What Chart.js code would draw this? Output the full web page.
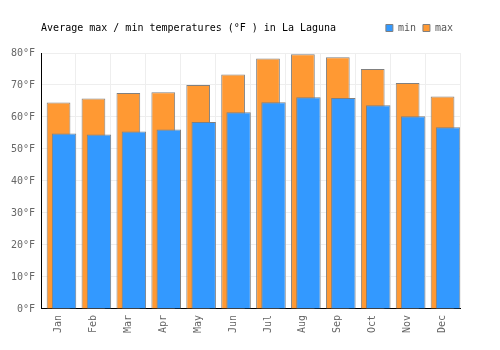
<!DOCTYPE html>
<html>
<head>
<meta charset="utf-8">
<script src="https://cdn.jsdelivr.net/npm/chart.js@4/dist/chart.umd.min.js"></script>
<style>
html,body{margin:0;padding:0;background:#fff;}
#wrap{width:500px;height:350px;position:relative;}
</style>
</head>
<body>
<div id="wrap"><canvas id="c" width="500" height="350"></canvas></div>
<script>
const months = ["Jan","Feb","Mar","Apr","May","Jun","Jul","Aug","Sep","Oct","Nov","Dec"];
const minTemps = [54.8, 54.5, 55.5, 56.1, 58.4, 61.5, 64.6, 66.2, 65.9, 63.7, 60.2, 56.8];
const maxTemps = [64.5, 65.8, 67.5, 67.7, 70.0, 73.3, 78.3, 79.6, 78.7, 75.0, 70.6, 66.4];
const yTicks = [0, 10, 20, 30, 40, 50, 60, 70, 80];
const titleText = "Average max / min temperatures (°F ) in La Laguna";

const FONT = "'DejaVu Sans Mono', 'Liberation Mono', monospace";
const shift = 0.158;
const TOP_PAD = 16;
const PLOT_TOP = 53;

const layoutPlugin = {
  id: 'legendHeight',
  beforeLayout(chart) {
    const lg = chart.legend;
    if (lg && !lg._patched) {
      lg._patched = true;
      const origFit = lg.fit;
      lg.fit = function () {
        origFit.call(this);
        this.height = PLOT_TOP - TOP_PAD;
      };
    }
  }
};

const titlePlugin = {
  id: 'sideTitle',
  afterDraw(chart) {
    const ctx = chart.ctx;
    const lg = chart.legend;
    const y = lg && lg.legendHitBoxes && lg.legendHitBoxes.length
      ? lg.legendHitBoxes[0].top + lg.legendHitBoxes[0].height / 2
      : 27;
    ctx.save();
    ctx.font = "10px " + FONT;
    ctx.fillStyle = "#000";
    ctx.textBaseline = "middle";
    ctx.textAlign = "left";
    ctx.fillText(titleText, chart.chartArea.left, y);
    ctx.restore();
  }
};

new Chart(document.getElementById('c'), {
  type: 'bar',
  data: {
    labels: months,
    datasets: [
      {
        label: 'min',
        data: minTemps.map((v, i) => ({x: i, y: v})),
        xAxisID: 'x2',
        backgroundColor: '#3399ff',
        borderColor: '#808080',
        borderWidth: 1,
        grouped: false,
        categoryPercentage: 1,
        barPercentage: 0.70
      },
      {
        label: 'max',
        data: maxTemps,
        xAxisID: 'x',
        backgroundColor: '#ff9933',
        borderColor: '#808080',
        borderWidth: 1,
        grouped: false,
        categoryPercentage: 1,
        barPercentage: 0.68
      }
    ]
  },
  plugins: [layoutPlugin, titlePlugin],
  options: {
    responsive: false,
    animation: false,
    events: [],
    layout: { padding: { left: 5, right: 40, top: TOP_PAD, bottom: 11 } },
    plugins: {
      tooltip: { enabled: false },
      title: { display: false },
      legend: {
        display: true,
        position: 'top',
        align: 'end',
        labels: {
          boxWidth: 7,
          boxHeight: 7,
          padding: 7,
          color: '#555',
          font: { family: FONT, size: 10 }
        }
      }
    },
    scales: {
      x: {
        type: 'category',
        offset: true,
        grid: { color: '#eeeeee', offset: true, drawTicks: false },
        border: { color: '#000', width: 1 },
        ticks: {
          color: '#666',
          font: { family: FONT, size: 10 },
          minRotation: 90,
          maxRotation: 90,
          padding: 6,
          autoSkip: false
        }
      },
      x2: {
        type: 'linear',
        display: false,
        min: -0.5 - shift,
        max: 11.5 - shift,
        offset: false
      },
      y: {
        min: 0,
        max: 80,
        grid: { color: '#eeeeee', drawTicks: false },
        border: { color: '#000', width: 1 },
        afterBuildTicks(axis) { axis.ticks = yTicks.map(v => ({value: v})); },
        ticks: {
          color: '#666',
          font: { family: FONT, size: 10 },
          padding: 6,
          callback: v => v + '°F'
        }
      }
    }
  }
});
</script>
</body>
</html>
